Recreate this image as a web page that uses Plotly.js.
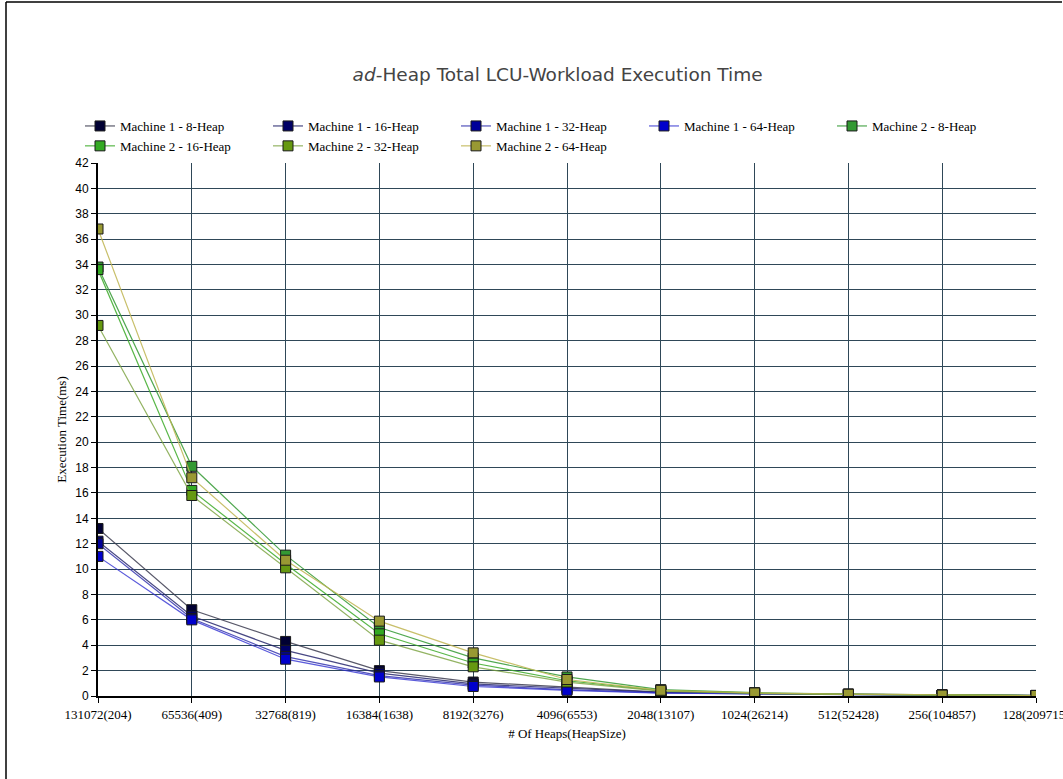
<!DOCTYPE html>
<html>
<head>
<meta charset="utf-8">
<script src="https://cdn.plot.ly/plotly-3.0.1.min.js"></script>
<style>
html,body{margin:0;padding:0;background:#fff;}
#chart{width:1063px;height:779px;}
</style>
</head>
<body>
<div id="chart"></div>
<script>
const categories = ["131072(204)","65536(409)","32768(819)","16384(1638)","8192(3276)","4096(6553)","2048(13107)","1024(26214)","512(52428)","256(104857)","128(209715)"];
const seriesNames = ["Machine 1 - 8-Heap","Machine 1 - 16-Heap","Machine 1 - 32-Heap","Machine 1 - 64-Heap","Machine 2 - 8-Heap","Machine 2 - 16-Heap","Machine 2 - 32-Heap","Machine 2 - 64-Heap"];
const m1_8  = [13.2, 6.8, 4.3, 2.0, 1.1, 0.7, 0.3, 0.2, 0.14, 0.08, 0.05];
const m1_16 = [12.2, 6.3, 3.6, 1.8, 0.95, 0.6, 0.28, 0.18, 0.12, 0.07, 0.04];
const m1_32 = [12.0, 6.1, 3.1, 1.6, 0.85, 0.5, 0.25, 0.16, 0.11, 0.06, 0.04];
const m1_64 = [11.0, 6.0, 2.9, 1.5, 0.75, 0.45, 0.22, 0.15, 0.1, 0.06, 0.03];
const m2_8  = [33.8, 18.1, 11.1, 5.4, 3.0, 1.5, 0.5, 0.26, 0.15, 0.08, 0.04];
const m2_16 = [33.6, 16.2, 10.4, 4.9, 2.6, 1.2, 0.42, 0.22, 0.13, 0.07, 0.04];
const m2_32 = [29.2, 15.8, 10.1, 4.4, 2.3, 1.1, 0.38, 0.2, 0.12, 0.06, 0.03];
const m2_64 = [36.8, 17.2, 10.7, 5.9, 3.4, 1.3, 0.45, 0.24, 0.14, 0.07, 0.04];
const yTicks = [0,2,4,6,8,10,12,14,16,18,20,22,24,26,28,30,32,34,36,38,40,42];

const allSeries = [m1_8, m1_16, m1_32, m1_64, m2_8, m2_16, m2_32, m2_64];
const markerColors = ["#000033","#000066","#000099","#0000cc","#339933","#33aa22","#669911","#999933"];
const lineColors   = ["rgba(60,60,80,0.85)","rgba(40,40,110,0.85)","rgba(40,40,170,0.8)","rgba(50,50,210,0.8)",
                      "rgba(51,153,51,0.85)","rgba(60,170,40,0.85)","rgba(120,160,60,0.8)","rgba(190,180,80,0.85)"];

const traces = allSeries.map((vals, i) => ({
  type: 'scatter',
  mode: 'lines+markers',
  name: seriesNames[i],
  x: categories,
  y: vals,
  line: {color: lineColors[i], width: 1.2},
  marker: {symbol: 'square', size: 10, color: markerColors[i], line: {color: '#1a1a1a', width: 1}}
}));

const layout = {
  width: 1063, height: 779,
  paper_bgcolor: '#ffffff',
  plot_bgcolor: '#ffffff',
  margin: {l: 98, r: 27, t: 163, b: 83},
  title: {text: '<i>ad</i>-Heap Total LCU-Workload Execution Time',
          font: {family: '"DejaVu Sans", sans-serif', size: 18.5, color: '#444'},
          x: 0.49, xanchor: 'center', y: 1 - 75/779, yanchor: 'middle', xref: 'paper', yref: 'container'},
  showlegend: true,
  legend: {orientation: 'h', x: -18/938, xref: 'paper', xanchor: 'left', y: 1 + 52/533, yref: 'paper', yanchor: 'top',
           font: {family: '"Liberation Serif", "Times New Roman", serif', size: 13, color: '#000'},
           entrywidth: 143, entrywidthmode: 'pixels', tracegroupgap: 0, itemwidth: 30,
           bgcolor: 'rgba(0,0,0,0)'},
  xaxis: {
    type: 'category', range: [0, 10], showgrid: true, gridcolor: '#2f4858', gridwidth: 1,
    showline: true, linecolor: '#000', linewidth: 2, zeroline: false,
    ticks: 'outside', ticklen: 5, tickcolor: '#000',
    tickfont: {family: '"Liberation Serif", "Times New Roman", serif', size: 13, color: '#000'},
    title: {text: '# Of Heaps(HeapSize)', font: {family: '"Liberation Serif", "Times New Roman", serif', size: 13, color: '#000'}, standoff: 8},
    automargin: false
  },
  yaxis: {
    range: [0, 42], tickvals: yTicks, ticktext: yTicks.map(String),
    showgrid: true, gridcolor: '#2f4858', gridwidth: 1,
    showline: true, linecolor: '#000', linewidth: 2, zeroline: false,
    ticks: 'outside', ticklen: 5, tickcolor: '#000',
    tickfont: {family: '"Liberation Sans", Arial, sans-serif', size: 12, color: '#000'},
    title: {text: 'Execution Time(ms)', font: {family: '"Liberation Serif", "Times New Roman", serif', size: 13, color: '#000'}, standoff: 6},
    automargin: false
  },
  shapes: [
    {type: 'line', xref: 'paper', yref: 'paper', x0: -92/938, x1: -92/938, y0: -83/533, y1: 1 + 161/533, line: {color: '#000', width: 1.5}},
    {type: 'line', xref: 'paper', yref: 'paper', x0: -92/938, x1: 1 + 26/938, y0: 1 + 161/533, y1: 1 + 161/533, line: {color: '#000', width: 1.5}}
  ]
};

Plotly.newPlot('chart', traces, layout, {displayModeBar: false, staticPlot: true});
</script>
</body>
</html>
